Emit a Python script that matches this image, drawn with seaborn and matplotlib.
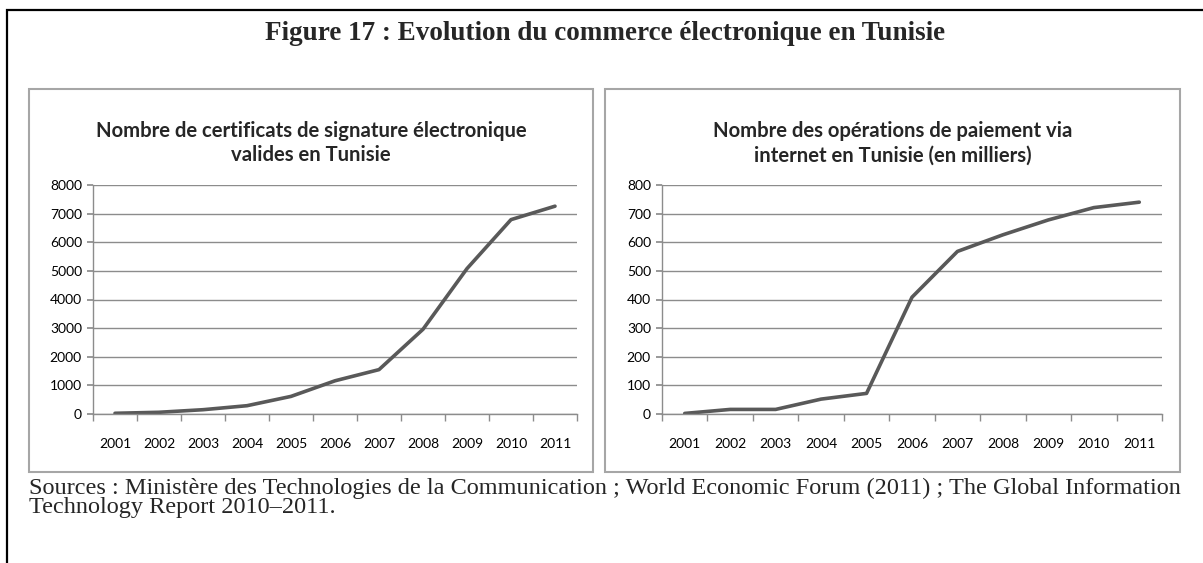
import matplotlib
matplotlib.use("Agg")
import matplotlib.pyplot as plt
import matplotlib.patches as patches
import seaborn as sns
import pandas as pd
import numpy as np

# ==========================
# Data
# ==========================
years = ["2001", "2002", "2003", "2004", "2005", "2006", "2007", "2008", "2009", "2010", "2011"]
certificats = [25, 60, 150, 290, 615, 1160, 1550, 2960, 5080, 6790, 7260]
paiements = [2, 16, 16, 52, 72, 408, 568, 626, 678, 721, 740]

title_main = "Figure 17 : Evolution du commerce électronique en Tunisie"
title_left = "Nombre de certificats de signature électronique\nvalides en Tunisie"
title_right = "Nombre des opérations de paiement via\ninternet en Tunisie (en milliers)"
sources = ("Sources : Ministère des Technologies de la Communication ; World Economic Forum (2011) ; The Global Information\n"
           "Technology Report 2010\u20132011.")

LINE_COLOR = "#595959"
GRID_COLOR = "#8c8c8c"
BOX_COLOR = "#a6a6a6"
SERIF = ["Liberation Serif", "DejaVu Serif"]

W, H = 1203, 563

sns.set_theme(style="white")
plt.rcParams["font.family"] = ["Lato", "DejaVu Sans"]


def px_rect(x0, y0, x1, y1):
    # pixel box (top-left origin) -> figure fraction [left, bottom, width, height]
    return [x0 / W, (H - y1) / H, (x1 - x0) / W, (y1 - y0) / H]


def draw_panel(fig, ax_box, values, ymax, ystep, title, box):
    # panel frame
    bx = px_rect(*box)
    fig.add_artist(patches.Rectangle((bx[0], bx[1]), bx[2], bx[3], transform=fig.transFigure,
                                     fill=False, edgecolor=BOX_COLOR, linewidth=1.5))
    fig.text(bx[0] + bx[2] / 2, (H - 143) / H, title, ha="center", va="center",
             fontsize=14.6, fontweight="bold", linespacing=1.3)

    ax = fig.add_axes(px_rect(*ax_box))
    df = pd.DataFrame({"pos": np.arange(len(years)), "val": values})
    sns.lineplot(data=df, x="pos", y="val", ax=ax, color=LINE_COLOR, linewidth=2.6)

    ax.set_xlim(-0.5, len(years) - 0.5)
    ax.set_ylim(0, ymax)
    ax.set_yticks(np.arange(0, ymax + 1, ystep))
    ax.set_xticks(np.arange(len(years)))
    ax.set_xticklabels(years)
    ax.set_xticks(np.arange(-0.5, len(years), 1.0), minor=True)
    ax.set_xlabel("")
    ax.set_ylabel("")
    ax.grid(axis="y", color=GRID_COLOR, linewidth=1.0)
    ax.set_axisbelow(True)
    for s in ["top", "right"]:
        ax.spines[s].set_visible(False)
    for s in ["left", "bottom"]:
        ax.spines[s].set_color(GRID_COLOR)
        ax.spines[s].set_linewidth(1.0)
    ax.tick_params(axis="y", which="major", left=True, length=4, color=GRID_COLOR,
                   labelsize=10, pad=4, labelcolor="black")
    ax.tick_params(axis="x", which="major", bottom=False, labelsize=10, pad=11, labelcolor="black")
    ax.tick_params(axis="x", which="minor", bottom=True, length=5, color=GRID_COLOR)
    return ax


fig = plt.figure(figsize=(W / 100, H / 100), dpi=100)

# outer frame of the figure block (runs off the right and bottom edges)
ox = px_rect(7, 10, 1220, 600)
fig.add_artist(patches.Rectangle((ox[0], ox[1]), ox[2], ox[3], transform=fig.transFigure,
                                 fill=False, edgecolor="black", linewidth=1.6, clip_on=False))

fig.text(605 / W, (H - 34) / H, title_main, ha="center", va="center",
         fontsize=19.5, fontweight="bold", family=SERIF)

draw_panel(fig, (93, 185, 577, 414), certificats, 8000, 1000, title_left, (29, 89, 593, 472))
draw_panel(fig, (662, 185, 1162, 414), paiements, 800, 100, title_right, (605, 89, 1180, 472))

fig.text(29 / W, (H - 478) / H, sources, ha="left", va="top", fontsize=17.5,
         family=SERIF, linespacing=0.85)

fig.savefig("out.png", dpi=100)
